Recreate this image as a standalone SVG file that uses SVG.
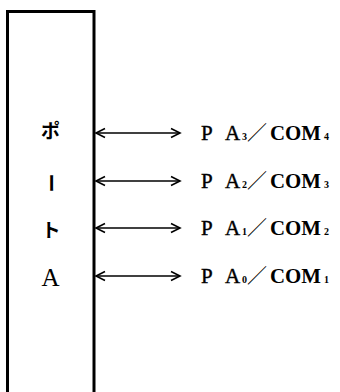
<svg xmlns="http://www.w3.org/2000/svg" width="340" height="392" viewBox="0 0 340 392">
<defs>
<style>
.box{fill:none;stroke:#000;stroke-width:3}
.conn{stroke:#000;stroke-width:1.6;fill:none;marker-start:url(#ah);marker-end:url(#ah)}
.jp{font-family:"Noto Sans CJK JP","Liberation Serif",serif;font-size:19px;font-weight:bold;fill:#000}
.lat{font-family:"Liberation Serif",serif;font-size:25px;fill:#000}
.pa{font-family:"Liberation Serif",serif;font-size:21px;fill:#000;stroke:#000;stroke-width:0.4}
.com{font-family:"Liberation Serif",serif;font-size:21px;font-weight:bold;fill:#000}
.sub{font-family:"Liberation Serif",serif;font-size:10px;font-weight:bold;fill:#000}
.sl{font-family:"Noto Sans CJK JP",sans-serif;font-size:20px;fill:#000}
</style>
<marker id="ah" viewBox="-11 -7 13 14" refX="0" refY="0" markerWidth="13" markerHeight="14" markerUnits="userSpaceOnUse" orient="auto-start-reverse">
<path d="M-9,-4.5 L0,0 L-9,4.5" fill="none" stroke="#000" stroke-width="1.6"/>
</marker>
</defs>
<g id="portA">
<rect class="box" x="7.5" y="11.5" width="86.5" height="400"/>
<text class="jp" x="50.5" y="138" text-anchor="middle">ポ</text>
<text class="jp" x="0" y="0" text-anchor="middle" transform="translate(50.5,183) rotate(90) translate(0,6.5)">ー</text>
<text class="jp" x="51" y="237" text-anchor="middle">ト</text>
<text class="lat" x="50.5" y="286" text-anchor="middle">A</text>
</g>
<g id="connectors">
<line class="conn" x1="96" y1="133" x2="180" y2="133"/>
<line class="conn" x1="96" y1="181" x2="180" y2="181"/>
<line class="conn" x1="96" y1="228" x2="180" y2="228"/>
<line class="conn" x1="96" y1="276" x2="180" y2="276"/>
</g>
<g id="pa3">
<text class="pa" x="201" y="140">P</text><text class="pa" x="225" y="140">A</text><text class="sub" x="242" y="140">3</text>
<text class="sl" x="247" y="140">／</text>
<text class="com" x="270" y="140" textLength="51" lengthAdjust="spacingAndGlyphs">COM</text><text class="sub" x="324" y="140">4</text>
</g>
<g id="pa2">
<text class="pa" x="201" y="188">P</text><text class="pa" x="225" y="188">A</text><text class="sub" x="242" y="188">2</text>
<text class="sl" x="247" y="188">／</text>
<text class="com" x="270" y="188" textLength="51" lengthAdjust="spacingAndGlyphs">COM</text><text class="sub" x="324" y="188">3</text>
</g>
<g id="pa1">
<text class="pa" x="201" y="235">P</text><text class="pa" x="225" y="235">A</text><text class="sub" x="242" y="235">1</text>
<text class="sl" x="247" y="235">／</text>
<text class="com" x="270" y="235" textLength="51" lengthAdjust="spacingAndGlyphs">COM</text><text class="sub" x="324" y="235">2</text>
</g>
<g id="pa0">
<text class="pa" x="201" y="283">P</text><text class="pa" x="225" y="283">A</text><text class="sub" x="242" y="283">0</text>
<text class="sl" x="247" y="283">／</text>
<text class="com" x="270" y="283" textLength="51" lengthAdjust="spacingAndGlyphs">COM</text><text class="sub" x="324" y="283">1</text>
</g>
</svg>
